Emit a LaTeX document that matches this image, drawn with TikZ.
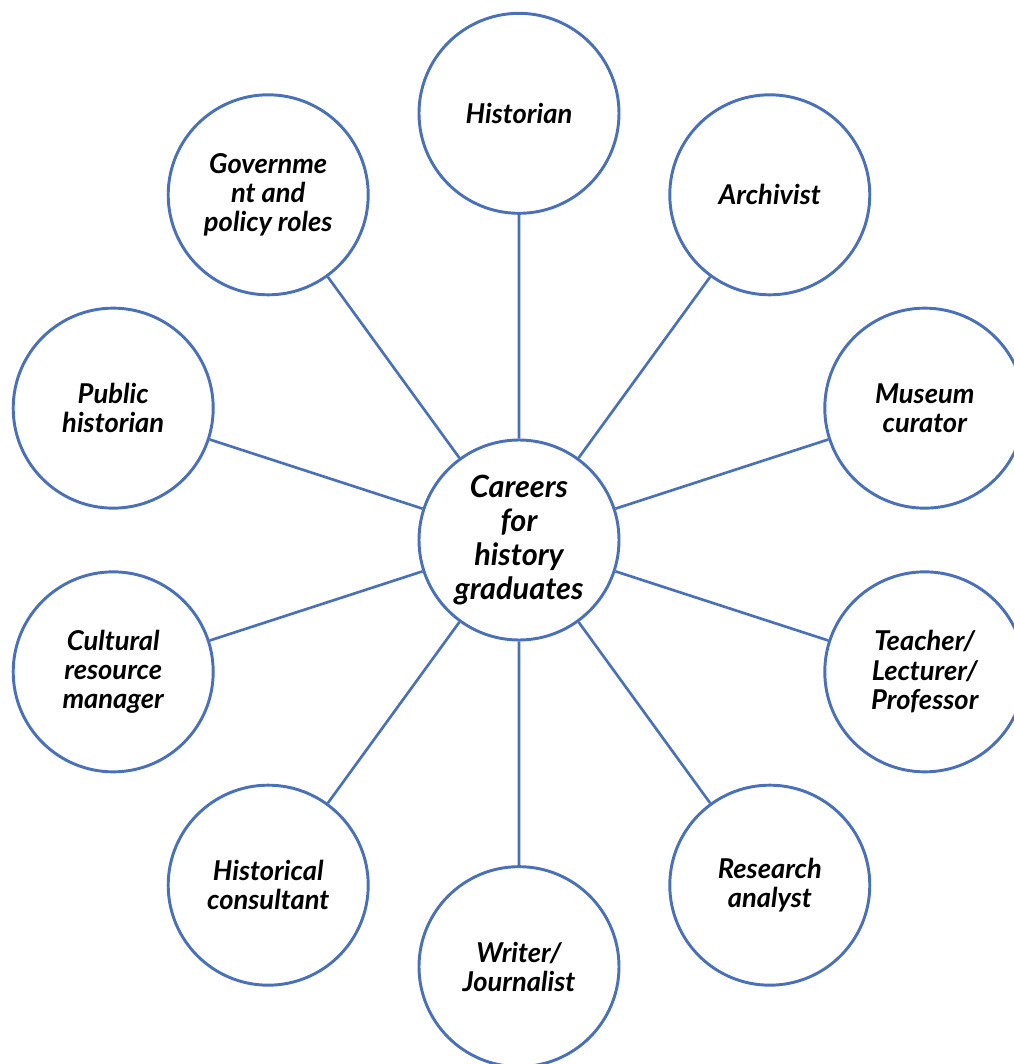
\documentclass[tikz,border=0pt]{standalone}
\usepackage{fontspec}
\setmainfont{Lato}
\usepackage{tikz}
\definecolor{ringblue}{HTML}{4A70B8}

\begin{document}
\begin{tikzpicture}[
  career/.style={circle,draw=ringblue,line width=2.2pt,fill=white,
    minimum size=150pt,inner sep=0pt,align=center,
    font=\fontsize{20.5}{22}\selectfont\bfseries\itshape},
  hub/.style={career,font=\fontsize{23}{25.5}\selectfont\bfseries\itshape},
  spoke/.style={draw=ringblue,line width=2pt}]
\useasboundingbox (-389.25pt,-393pt) rectangle (371.25pt,405pt);
\node[hub] (C) at (0,0) {Careers\\for\\history\\graduates};
\node[career] (H1) at (90:320pt) {Historian};
\node[career] (H2) at (54:320pt) {Archivist};
\node[career] (H3) at (18:320pt) {Museum\\curator};
\node[career] (H4) at (-18:320pt) {Teacher/\\Lecturer/\\Professor};
\node[career] (H5) at (-54:320pt) {Research\\analyst};
\node[career] (H6) at (-90:320pt) {Writer/\\Journalist};
\node[career] (H7) at (-126:320pt) {Historical\\consultant};
\node[career] (H8) at (-162:320pt) {Cultural\\resource\\manager};
\node[career] (H9) at (162:320pt) {Public\\historian};
\node[career] (H10) at (126:320pt) {Governme\\nt and\\policy roles};
\draw[spoke] (C)--(H1) (C)--(H2) (C)--(H3) (C)--(H4) (C)--(H5)
(C)--(H6) (C)--(H7) (C)--(H8) (C)--(H9) (C)--(H10);
\end{tikzpicture}
\end{document}
